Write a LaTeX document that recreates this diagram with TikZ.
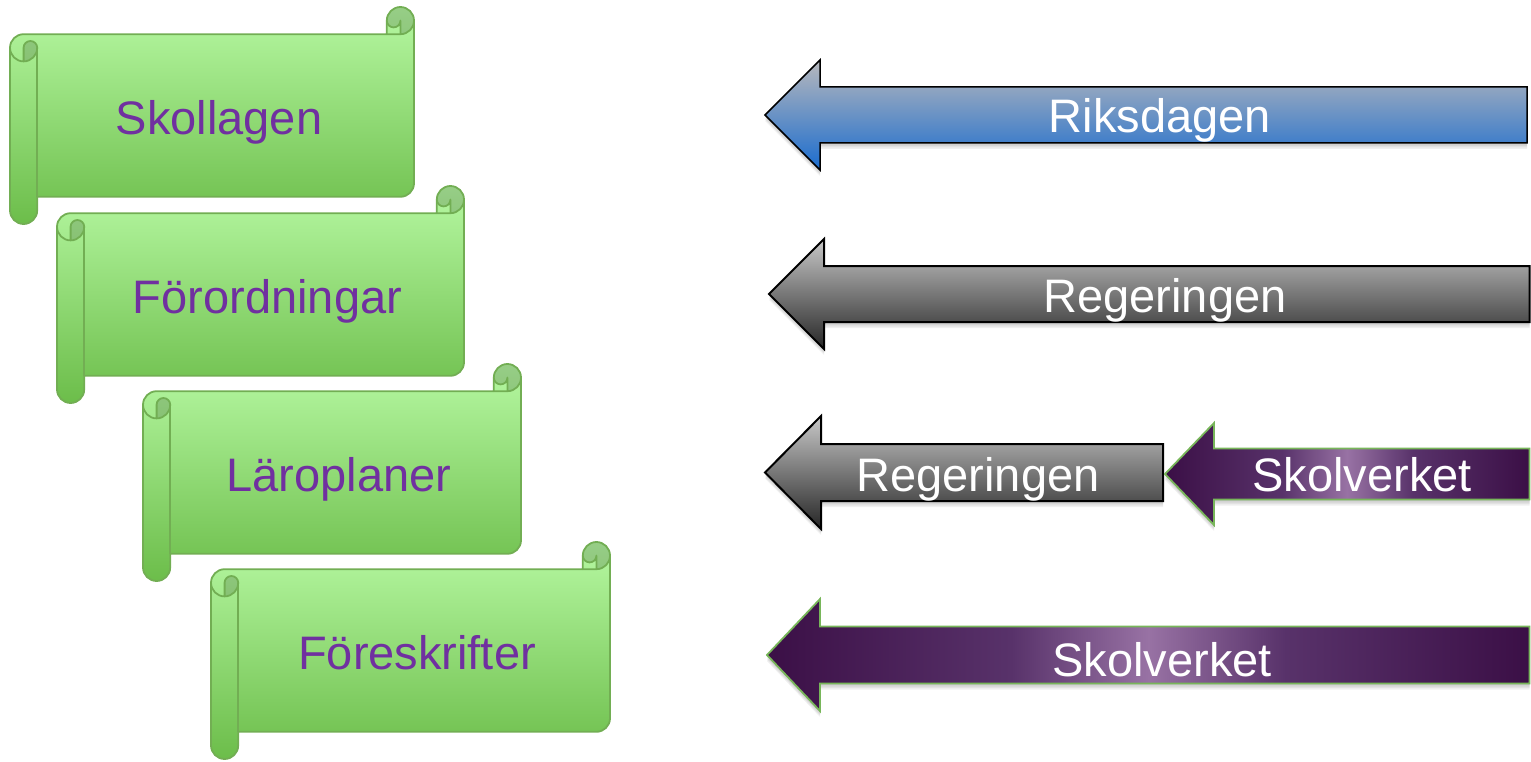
\documentclass[tikz,border=0pt]{standalone}
\usepackage{fontspec}
\setmainfont{Liberation Sans}
\definecolor{scrollTop}{HTML}{B6F8A2}
\definecolor{scrollBot}{HTML}{6CBD4A}
\definecolor{scrollLine}{HTML}{72AE53}
\definecolor{textPurple}{HTML}{7030A0}
\definecolor{blueTop}{HTML}{B8B8BC}
\definecolor{blueBot}{HTML}{1A6CCE}
\definecolor{grayTop}{HTML}{C8C8C8}
\definecolor{grayBot}{HTML}{262626}
\definecolor{purpD}{HTML}{3B0F46}
\definecolor{purpM}{HTML}{58326A}
\definecolor{purpL}{HTML}{9872A4}
\definecolor{purpLine}{HTML}{78B65A}
\pgfdeclarehorizontalshading{purpleglow}{100bp}{color(0bp)=(purpD); color(25bp)=(purpD); color(41bp)=(purpM); color(50bp)=(purpL); color(59bp)=(purpM); color(75bp)=(purpD); color(100bp)=(purpD)}
\tikzset{
  scrollfill/.style={top color=scrollTop, bottom color=scrollBot, draw=none},
  scrollline/.style={draw=scrollLine, line width=1.8pt, line join=round},
  scrolldark/.style={fill=black, fill opacity=0.17, draw=none},
  scrolltext/.style={anchor=base, inner sep=0pt, text=textPurple, font=\fontsize{47}{56}\selectfont},
  arrowtext/.style={anchor=base, inner sep=0pt, text=white, font=\fontsize{47}{56}\selectfont},
  bluearrow/.style={top color=blueTop, bottom color=blueBot, draw=black, line width=1.5pt, line join=miter},
  grayarrow/.style={top color=grayTop, bottom color=grayBot, draw=black, line width=2pt, line join=miter},
  purparrow/.style={shading=purpleglow, draw=purpLine, line width=1.8pt, line join=miter},
  shadowlayer/.style={fill=black, fill opacity=0.06, draw=none}
}
% L T R B
\newcommand\drawscroll[4]{%
  \path[scrollfill] (#1,{#2+40.8}) arc[start angle=180, delta angle=90, radius=13.6pt]
    -- ({#3-27.2},{#2+27.2}) -- ({#3-27.2},{#2+13.6})
    arc[start angle=180, delta angle=180, radius=13.6pt]
    -- (#3,{#4-40.8}) arc[start angle=0, delta angle=90, radius=13.6pt]
    -- ({#1+27.2},{#4-27.2}) -- ({#1+27.2},{#4-13.6})
    arc[start angle=0, delta angle=180, radius=13.6pt] -- cycle;
  \path[scrolldark] ({#3-13.6},{#2+27.2}) arc[start angle=90, delta angle=-270, radius=13.6pt]
    arc[start angle=180, delta angle=-180, radius=6.8pt] -- cycle;
  \path[scrolldark] ({#1+13.6},{#2+54.4}) arc[start angle=90, delta angle=-90, radius=13.6pt]
    arc[start angle=0, delta angle=-180, radius=6.8pt] -- cycle;
  \path[scrollline] (#1,{#2+40.8}) arc[start angle=180, delta angle=90, radius=13.6pt]
    -- ({#3-27.2},{#2+27.2}) -- ({#3-27.2},{#2+13.6})
    arc[start angle=180, delta angle=180, radius=13.6pt]
    -- (#3,{#4-40.8}) arc[start angle=0, delta angle=90, radius=13.6pt]
    -- ({#1+27.2},{#4-27.2}) -- ({#1+27.2},{#4-13.6})
    arc[start angle=0, delta angle=180, radius=13.6pt] -- cycle;
  \path[scrollline] ({#3-27.2},{#2+27.2}) -- ({#3-13.6},{#2+27.2})
    arc[start angle=90, delta angle=-90, radius=13.6pt];
  \path[scrollline] ({#3-13.6},{#2+27.2}) -- ({#3-13.6},{#2+13.6})
    arc[start angle=0, delta angle=180, radius=6.8pt];
  \path[scrollline] ({#1+13.6},{#2+54.4}) -- ({#1+13.6},{#2+40.8})
    arc[start angle=180, delta angle=180, radius=6.8pt]
    arc[start angle=0, delta angle=180, radius=13.6pt];
  \path[scrollline] ({#1+27.2},{#2+40.8}) -- ({#1+27.2},{#4-27.2});
}
% style, tip x, center y, head base x, half head, half shaft, right x
\newcommand\blockarrow[7]{%
  \foreach \k in {1,2,3,4}{
    \path[shadowlayer] ($(#2,#3)+(0,1.5*\k)$) -- ($(#4,{#3-#5})+(0,1.5*\k)$) -- ($(#4,{#3-#6})+(0,1.5*\k)$)
      -- ($(#7,{#3-#6})+(0,1.5*\k)$) -- ($(#7,{#3+#6})+(0,1.5*\k)$) -- ($(#4,{#3+#6})+(0,1.5*\k)$)
      -- ($(#4,{#3+#5})+(0,1.5*\k)$) -- cycle;
  }
  \path[#1] (#2,#3) -- (#4,{#3-#5}) -- (#4,{#3-#6}) -- (#7,{#3-#6}) -- (#7,{#3+#6})
    -- (#4,{#3+#6}) -- (#4,{#3+#5}) -- cycle;
}
\usetikzlibrary{calc}
\begin{document}
\begin{tikzpicture}[x=1pt,y=1pt]
\useasboundingbox (0,0) rectangle (1531,-762);
\begin{scope}[yscale=-1]
  % scrolls
  \drawscroll{10}{7}{414}{224}
  \drawscroll{57}{186}{464}{403}
  \drawscroll{143}{364}{521}{581}
  \drawscroll{211}{542}{610}{759}
  \node[scrolltext] (skollagen) at (219,135) {Skollagen};
  \node[scrolltext] (forordningar) at (267.5,313.5) {Förordningar};
  \node[scrolltext] (laroplaner) at (339,491.5) {Läroplaner};
  \node[scrolltext] (foreskrifter) at (417,669.5) {Föreskrifter};
  % arrows
  \blockarrow{bluearrow}{765}{115}{820}{55}{28}{1527}
  \blockarrow{grayarrow}{769}{294}{824}{55}{28}{1529.5}
  \blockarrow{grayarrow}{765}{472.5}{821}{56.5}{28.5}{1163}
  \blockarrow{purparrow}{1165}{474}{1214}{51}{25.5}{1529.5}
  \blockarrow{purparrow}{767}{655}{820}{56}{28.5}{1529.5}
  \node[arrowtext] (riksdagen) at (1160,133) {Riksdagen};
  \node[arrowtext] (regeringen1) at (1165,312) {Regeringen};
  \node[arrowtext] (regeringen2) at (978,491) {Regeringen};
  \node[arrowtext] (skolverket1) at (1362,491) {Skolverket};
  \node[arrowtext] (skolverket2) at (1162,676) {Skolverket};
\end{scope}
\end{tikzpicture}
\end{document}
